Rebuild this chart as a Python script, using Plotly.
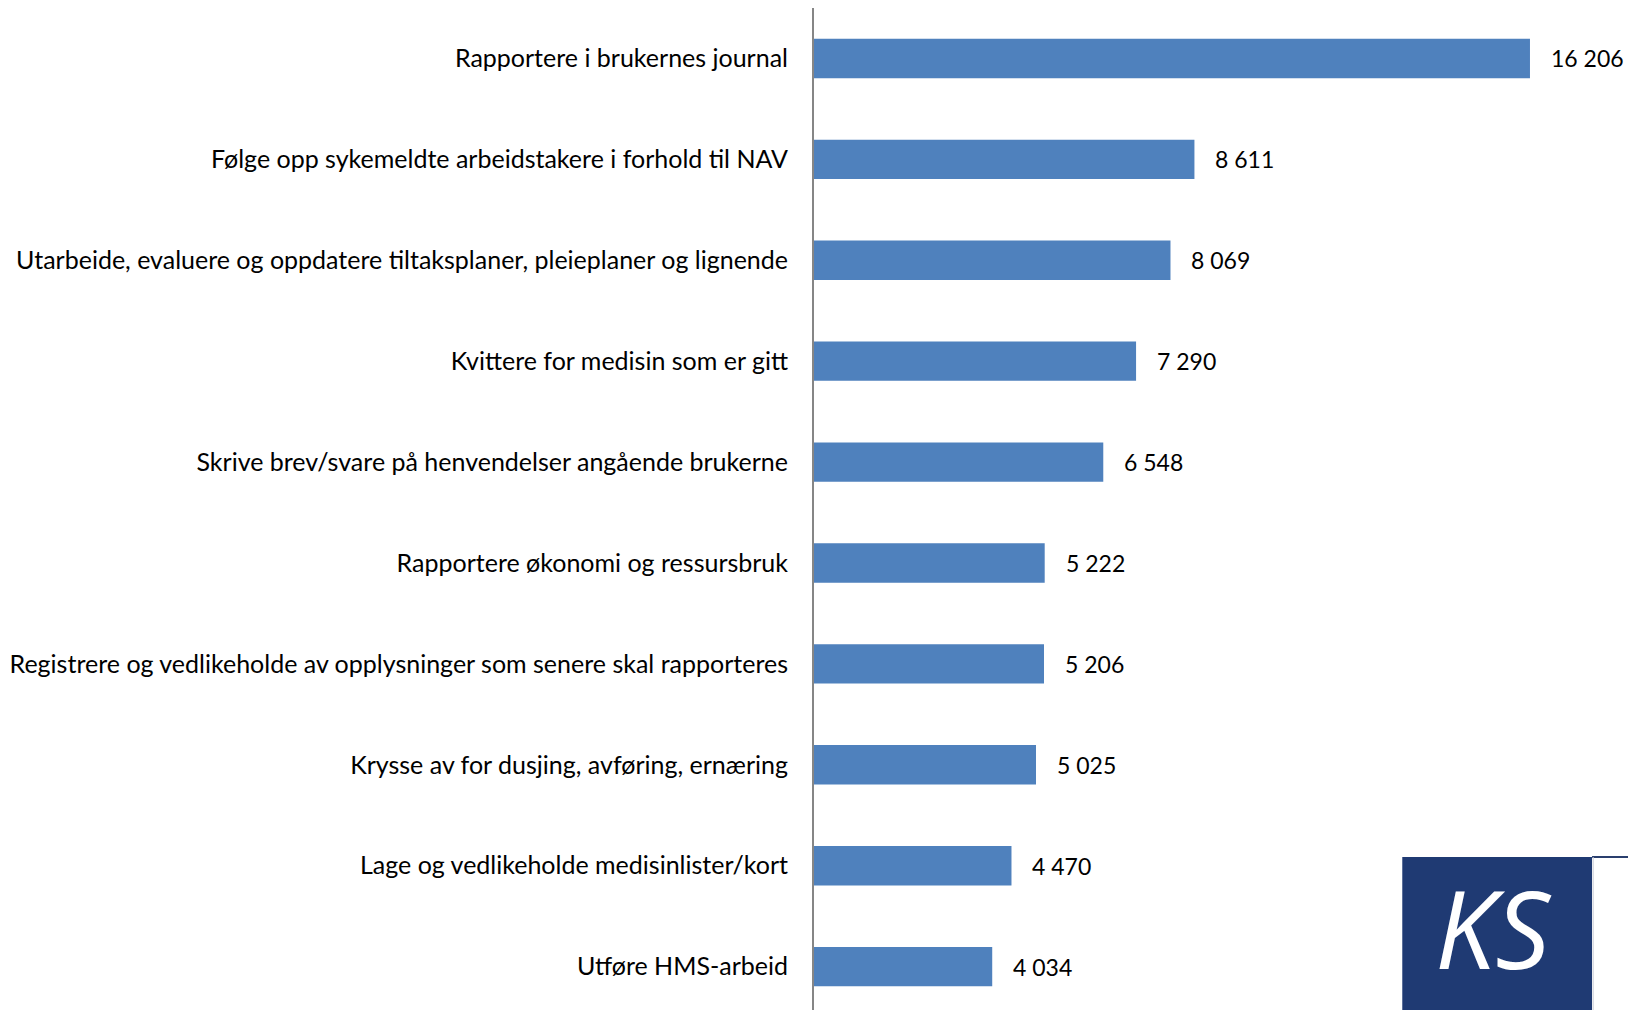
import plotly.graph_objects as go

categories = [
    "Rapportere i brukernes journal",
    "Følge opp sykemeldte arbeidstakere i forhold til NAV",
    "Utarbeide, evaluere og oppdatere tiltaksplaner, pleieplaner og lignende",
    "Kvittere for medisin som er gitt",
    "Skrive brev/svare på henvendelser angående brukerne",
    "Rapportere økonomi og ressursbruk",
    "Registrere og vedlikeholde av opplysninger som senere skal rapporteres",
    "Krysse av for dusjing, avføring, ernæring",
    "Lage og vedlikeholde medisinlister/kort",
    "Utføre HMS-arbeid",
]
values = [16206, 8611, 8069, 7290, 6548, 5222, 5206, 5025, 4470, 4034]

FONT = "Lato"
FS = 25

fig = go.Figure(go.Bar(
    x=values, y=categories, orientation="h",
    marker=dict(color="#4F81BD", line=dict(width=0)),
    width=0.39,
))

for c, v in zip(categories, values):
    fig.add_annotation(x=v, y=c, text=f"{v:,}".replace(",", " "),
                       xanchor="left", yanchor="middle", xshift=19, showarrow=False,
                       font=dict(family=FONT, size=23, color="black"))

# KS logo (paper coords of plot area: x 814..1628, y 8..1010)
fig.add_shape(type="rect", xref="paper", yref="paper", x0=0.7227, x1=0.9558,
              y0=-0.02, y1=0.1527, fillcolor="#1F3A73", line=dict(width=0), layer="above")
fig.add_shape(type="line", xref="paper", yref="paper", x0=0.9558, x1=1.0,
              y0=0.1527, y1=0.1527, line=dict(color="#2A3F6E", width=2), layer="above")
fig.add_shape(type="line", xref="paper", yref="paper", x0=0.9572, x1=0.9572,
              y0=-0.02, y1=0.1527, line=dict(color="#C8CCD6", width=1), layer="above")
fig.add_annotation(xref="paper", yref="paper", x=0.834, y=0.082, text="<i>KS</i>",
                   showarrow=False, xanchor="center", yanchor="middle",
                   font=dict(family="Open Sans", size=108, color="white"))

fig.update_layout(
    width=1628, height=1010,
    margin=dict(l=814, r=0, t=8, b=0, autoexpand=False),
    paper_bgcolor="white", plot_bgcolor="white",
    showlegend=False,
    xaxis=dict(range=[0, 18425], visible=False, showgrid=False, zeroline=False),
    yaxis=dict(range=[9.43, -0.5], showgrid=False, zeroline=False,
               showline=True, linecolor="#868686", linewidth=2,
               ticks="", ticklabelstandoff=19,
               tickfont=dict(family=FONT, size=FS, color="black")),
)

fig.write_html("out.html", config={"displayModeBar": False},
               post_script="document.body.style.margin='0';")
